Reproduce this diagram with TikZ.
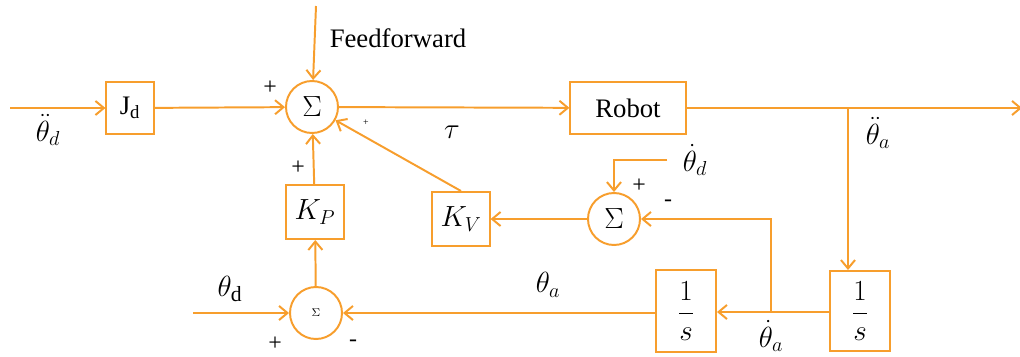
\documentclass[tikz,border=0pt]{standalone}
\usepackage{fontspec}
\setmainfont{Liberation Serif}
\usetikzlibrary{arrows.meta}
\definecolor{ora}{RGB}{247,158,45}
\tikzset{
  blk/.style={draw=ora, line width=1.4pt, inner sep=0pt},
  sumc/.style={circle, draw=ora, line width=1.4pt, inner sep=0pt, minimum size=1.3cm},
  conn/.style={draw=ora, line width=1.4pt, -{Straight Barb[length=6pt,width=10pt]}},
  sgn/.style={inner sep=0pt, font=\fontsize{17}{19}\selectfont},
  mlbl/.style={font=\fontsize{22}{24}\selectfont},
}

\begin{document}
\begin{tikzpicture}[x=0.025cm, y=-0.025cm, font=\fontsize{19}{22}\selectfont]
		%%%%% START %%%%%
		\useasboundingbox (0,0) rectangle (1020,356);

		% blocks
		\node[blk, minimum width=1.18cm, minimum height=1.28cm] (jd) at (130,108) {J\textsubscript{d}};
		\node[sumc, mlbl] (s1) at (312,107) {$\Sigma$};
		\node[blk, minimum width=2.88cm, minimum height=1.3cm] (robot) at (628,108) {Robot};
		\node[blk, mlbl, minimum width=1.43cm, minimum height=1.35cm] (kp) at (315,212) {$K_P$};
		\node[blk, mlbl, minimum width=1.43cm, minimum height=1.35cm] (kv) at (461,219) {$K_V$};
		\node[sumc, mlbl] (s2) at (614,219) {$\Sigma$};
		\node[sumc, font=\fontsize{8}{9}\selectfont] (s3) at (316,313) {$\Sigma$};
		\node[blk, mlbl, minimum width=1.5cm, minimum height=2.03cm] (inta) at (686,311) {$\displaystyle\frac{1}{s}$};
		\node[blk, mlbl, minimum width=1.48cm, minimum height=2cm] (intb) at (860,311) {$\displaystyle\frac{1}{s}$};

		% free ends and corners
		\coordinate (in) at (10,108);
		\coordinate (out) at (1022,108);
		\coordinate (ff) at (316,6);
		\coordinate (thd) at (193,313);
		\coordinate (dthd) at (667,160);
		\coordinate (brA) at (848,108);
		\coordinate (brB) at (771,312);

		% forward path
		\draw[conn] (in) -- (jd);
		\draw[conn] (jd) -- (s1);
		\draw[conn] (ff) -- (s1);
		\draw[conn] (s1) -- (robot);
		\draw[conn] (robot) -- (out);
		\draw[conn] (brA) -- (brA |- intb.north);
		\draw[conn] (intb.west |- brB) -- (inta.east |- brB);
		\draw[conn] (inta.west |- s3) -- (s3);

		% feedback loops
		\draw[conn] (brB) |- (s2);
		\draw[conn] (dthd) -| (s2);
		\draw[conn] (s2) -- (kv);
		\draw[conn] (kv.north) -- (s1);
		\draw[conn] (thd) -- (s3);
		\draw[conn] (s3) -- (kp);
		\draw[conn] (kp) -- (s1);

		% labels
		\node (lff) at (398,38) {Feedforward};
		\node[mlbl] (ltau) at (452,132) {$\tau$};
		\node[mlbl] (lddthd) at (48,130) {$\ddot{\theta}_d$};
		\node[mlbl] (lddtha) at (878,133) {$\ddot{\theta}_a$};
		\node[mlbl] (ldthd) at (695,160) {$\dot{\theta}_d$};
		\node[mlbl] (ldtha) at (771,336) {$\dot{\theta}_a$};
		\node[mlbl] (lthd) at (230,289) {$\theta_{\mathrm{d}}$};
		\node[mlbl] (ltha) at (548,285) {$\theta_a$};

		% signs
		\node[sgn] (p1) at (270,88) {+};
		\node[sgn, font=\fontsize{7}{8}\selectfont] (p2) at (366,123) {+};
		\node[sgn] (p3) at (298,168) {+};
		\node[sgn] (p4) at (639,186) {+};
		\node[sgn] (m1) at (668,203) {-};
		\node[sgn] (p5) at (275,344) {+};
		\node[sgn] (m2) at (353,343) {-};

		%%%%% END %%%%%
	\end{tikzpicture}
\end{document}
